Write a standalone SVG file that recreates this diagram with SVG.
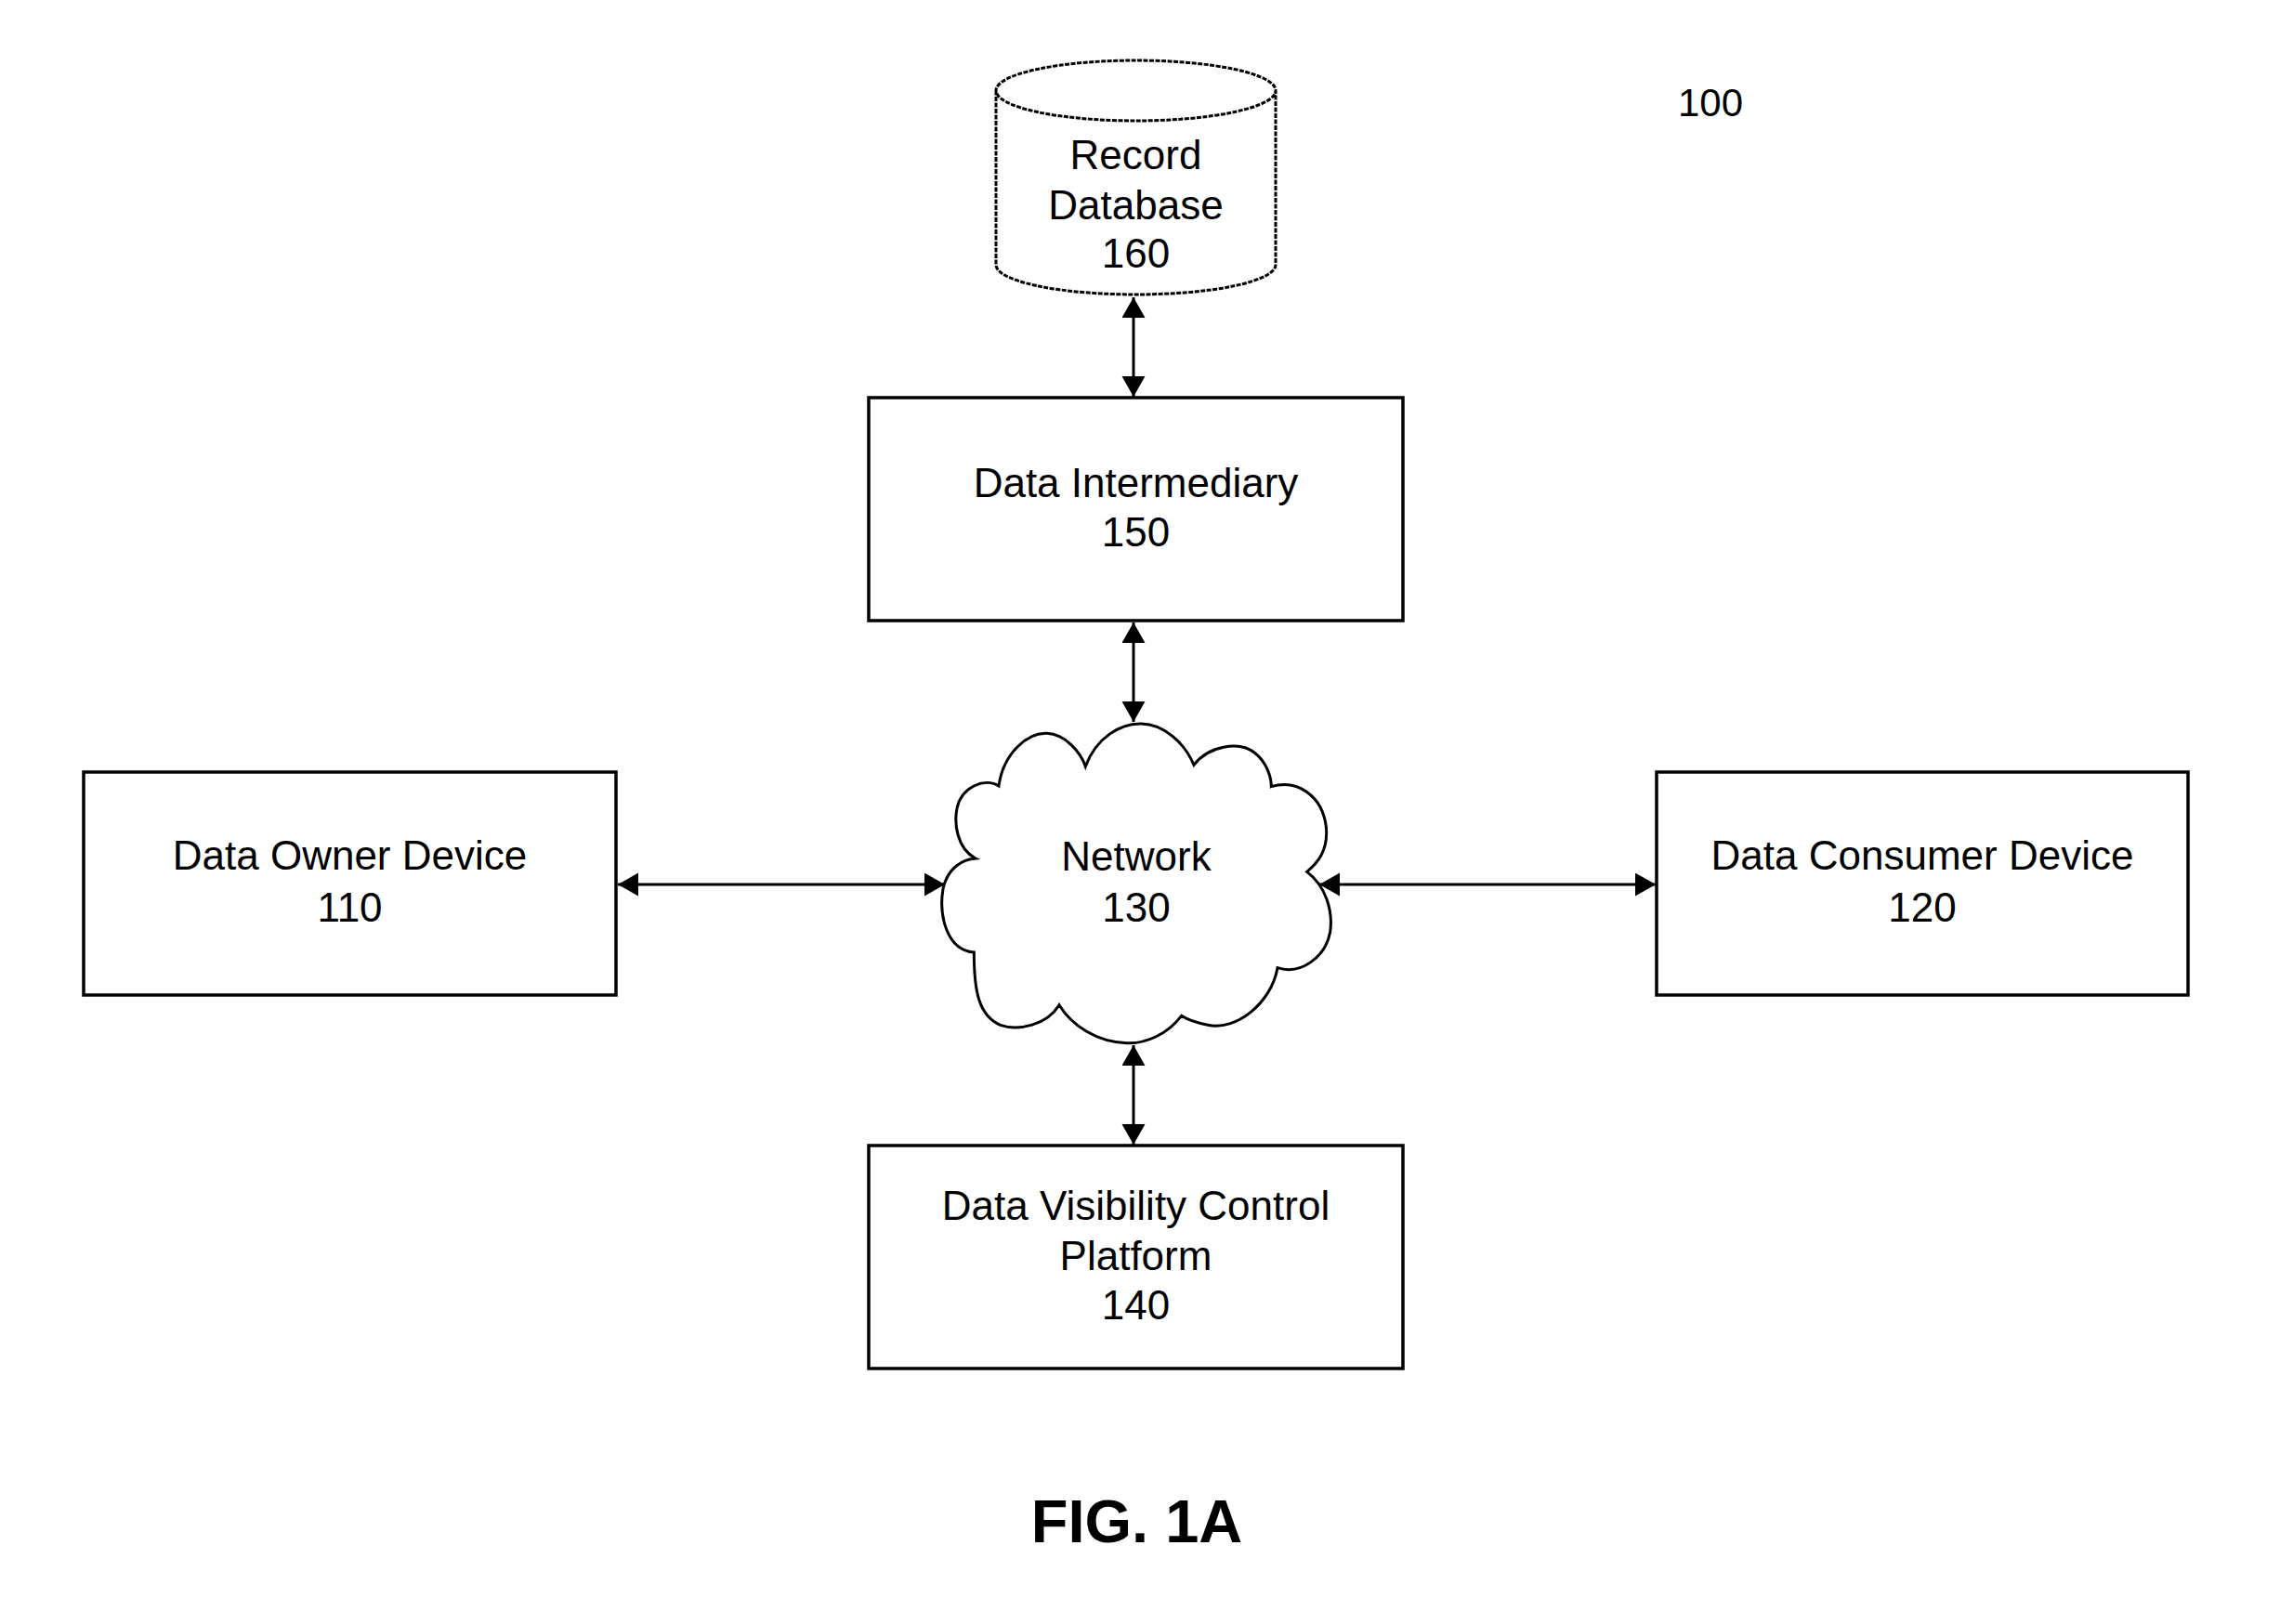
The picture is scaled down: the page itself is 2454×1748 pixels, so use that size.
<svg xmlns="http://www.w3.org/2000/svg" width="2454" height="1748" viewBox="0 0 2454 1748">
<style>
.box{fill:#fff;stroke:#000;stroke-width:3.5}
.t{font-family:"Liberation Sans",Arial,sans-serif;font-size:44px;fill:#000;text-anchor:middle}
.fig{font-family:"Liberation Sans",Arial,sans-serif;font-size:65px;font-weight:bold;fill:#000;text-anchor:middle}
.conn{stroke:#000;stroke-width:3;fill:none;marker-start:url(#ah);marker-end:url(#ah)}
.db{fill:#fff;stroke:#000;stroke-width:3;stroke-dasharray:5 1.5}
</style>
<defs>
<marker id="ah" markerUnits="userSpaceOnUse" markerWidth="24" markerHeight="26" refX="22" refY="12.5" orient="auto-start-reverse">
<path d="M0,0 L22,12.5 L0,25 Z" fill="#000"/>
</marker>
</defs>
<rect width="2454" height="1748" fill="#fff"/>

<g id="connectors">
<line class="conn" x1="1220" y1="320" x2="1220" y2="427"/>
<line class="conn" x1="1220" y1="670" x2="1220" y2="777"/>
<line class="conn" x1="1220" y1="1125" x2="1220" y2="1232"/>
<line class="conn" x1="665" y1="952" x2="1017" y2="952"/>
<line class="conn" x1="1420" y1="952" x2="1782" y2="952"/>
</g>

<g id="node-160">
<path class="db" d="M1072,97.5 L1072,285 A150.5,32 0 0 0 1373,285 L1373,97.5 A150.5,32.5 0 0 0 1072,97.5 A150.5,32.5 0 0 0 1373,97.5"/>
<text class="t" x="1222.5" y="182">Record</text>
<text class="t" x="1222.5" y="236">Database</text>
<text class="t" x="1222.5" y="288">160</text>
</g>

<g id="node-150">
<rect class="box" x="935" y="428" width="575" height="240"/>
<text class="t" x="1222.5" y="535">Data Intermediary</text>
<text class="t" x="1222.5" y="588">150</text>
</g>

<g id="node-130">
<g transform="translate(980 760) scale(0.333333)">
<path fill="#fff" stroke="#000" stroke-width="9" d="M565,195 C600,100 680,55 745,57 C820,58 885,120 915,190 C960,130 1060,110 1110,150 C1150,180 1165,230 1165,260 C1250,235 1330,290 1342,390 C1350,470 1310,510 1280,535 C1340,580 1365,660 1355,730 C1340,810 1260,870 1185,845 C1165,960 1050,1050 960,1030 C920,1022 890,1010 875,1000 C830,1060 760,1090 700,1088 C600,1085 520,1030 480,965 C440,1030 350,1050 290,1030 C220,1000 205,920 205,795 C120,790 90,680 105,590 C120,520 170,495 210,492 C150,460 140,380 150,330 C165,260 240,230 285,258 C300,150 380,85 440,88 C500,90 550,150 565,195 Z"/>
</g>
<text class="t" x="1223" y="937">Network</text>
<text class="t" x="1223" y="992">130</text>
</g>

<g id="node-110">
<rect class="box" x="90" y="831" width="573" height="240"/>
<text class="t" x="376.5" y="936">Data Owner Device</text>
<text class="t" x="376.5" y="992">110</text>
</g>

<g id="node-120">
<rect class="box" x="1783" y="831" width="572" height="240"/>
<text class="t" x="2069" y="936">Data Consumer Device</text>
<text class="t" x="2069" y="992">120</text>
</g>

<g id="node-140">
<rect class="box" x="935" y="1233" width="575" height="240"/>
<text class="t" x="1222.5" y="1313">Data Visibility Control</text>
<text class="t" x="1222.5" y="1367">Platform</text>
<text class="t" x="1222.5" y="1420">140</text>
</g>

<text class="t" x="1841" y="125" style="font-size:42px">100</text>
<text class="fig" x="1223.5" y="1660">FIG. 1A</text>
</svg>
